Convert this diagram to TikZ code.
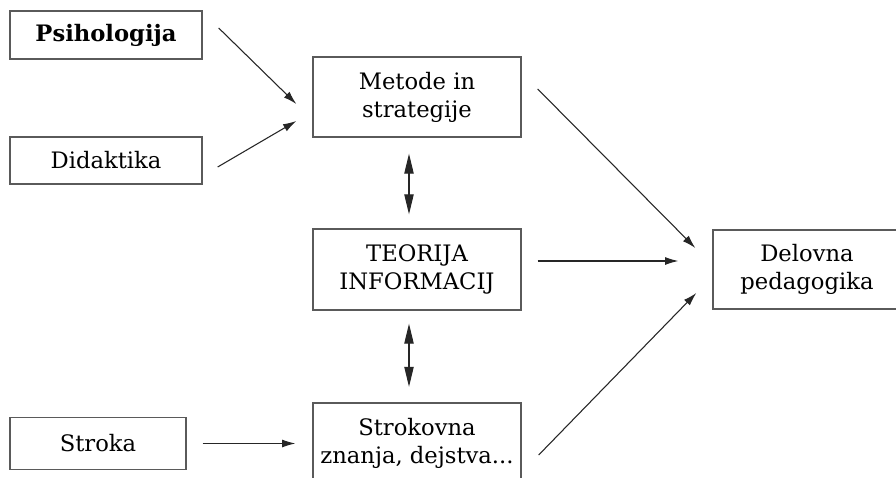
\documentclass[tikz,border=0pt]{standalone}
\usepackage{fontspec}
\setmainfont{DejaVu Serif}
\usetikzlibrary{arrows.meta,calc}
\definecolor{boxline}{HTML}{5A5A5A}
\definecolor{arrowline}{HTML}{262626}
\begin{document}
\begin{tikzpicture}[x=0.75pt,y=-0.75pt,
  box/.style={draw=boxline,line width=1pt,align=center,inner sep=0pt,
    font=\fontsize{17}{21}\selectfont},
  flow/.style={draw=arrowline,line width=0.8pt,
    -{Latex[length=10pt,width=6pt]}},
  both/.style={draw=arrowline,line width=0.8pt,
    {Triangle[length=15pt,width=7pt]}-{Triangle[length=15pt,width=7pt]}}]
\clip (0,0) rectangle (896,478);
\fill[white] (0,0) rectangle (896,478);

% boxes
\node[box,minimum width=192*0.75pt,minimum height=48*0.75pt] (psi) at (106,35) {\textbf{Psihologija}};
\node[box,minimum width=192*0.75pt,minimum height=47*0.75pt] (did) at (106,160.5) {Didaktika};
\node[box,minimum width=176*0.75pt,minimum height=52*0.75pt] (stk) at (98,443.5) {Stroka};
\node[box,minimum width=208*0.75pt,minimum height=80*0.75pt] (met) at (417,97) {Metode in\\strategije};
\node[box,minimum width=208*0.75pt,minimum height=81*0.75pt] (teo) at (417,269.5) {TEORIJA\\INFORMACIJ};
\node[box,minimum width=208*0.75pt,minimum height=81*0.75pt] (str) at (417,443.5) {Strokovna\\znanja, dejstva...};
\node[box,minimum width=188*0.75pt,minimum height=79*0.75pt] (del) at (807,269.5) {Delovna\\pedagogika};

% connectors
\draw[flow] ($(psi.east)+(16,-7)$) -- ($(met.west)+(-16,7)$);
\draw[flow] ($(did.east)+(15,6.5)$) -- ($(met.west)+(-16,24)$);
\draw[flow] ($(stk.east)+(16,0)$) -- ($(str.west)+(-17,0)$);
\draw[flow] ($(met.east)+(16,-8)$) -- ($(del.west)+(-17,-21.5)$);
\draw[flow] ($(teo.east)+(16,-8.5)$) -- ($(del.west)+(-34,-8.5)$);
\draw[flow] ($(str.east)+(17,11.5)$) -- ($(del.west)+(-16,23.5)$);
\draw[both] ($(met.south)+(-8,16)$) -- ($(teo.north)+(-8,-14)$);
\draw[both] ($(teo.south)+(-8,13)$) -- ($(str.north)+(-8,-15.5)$);
\end{tikzpicture}
\end{document}
